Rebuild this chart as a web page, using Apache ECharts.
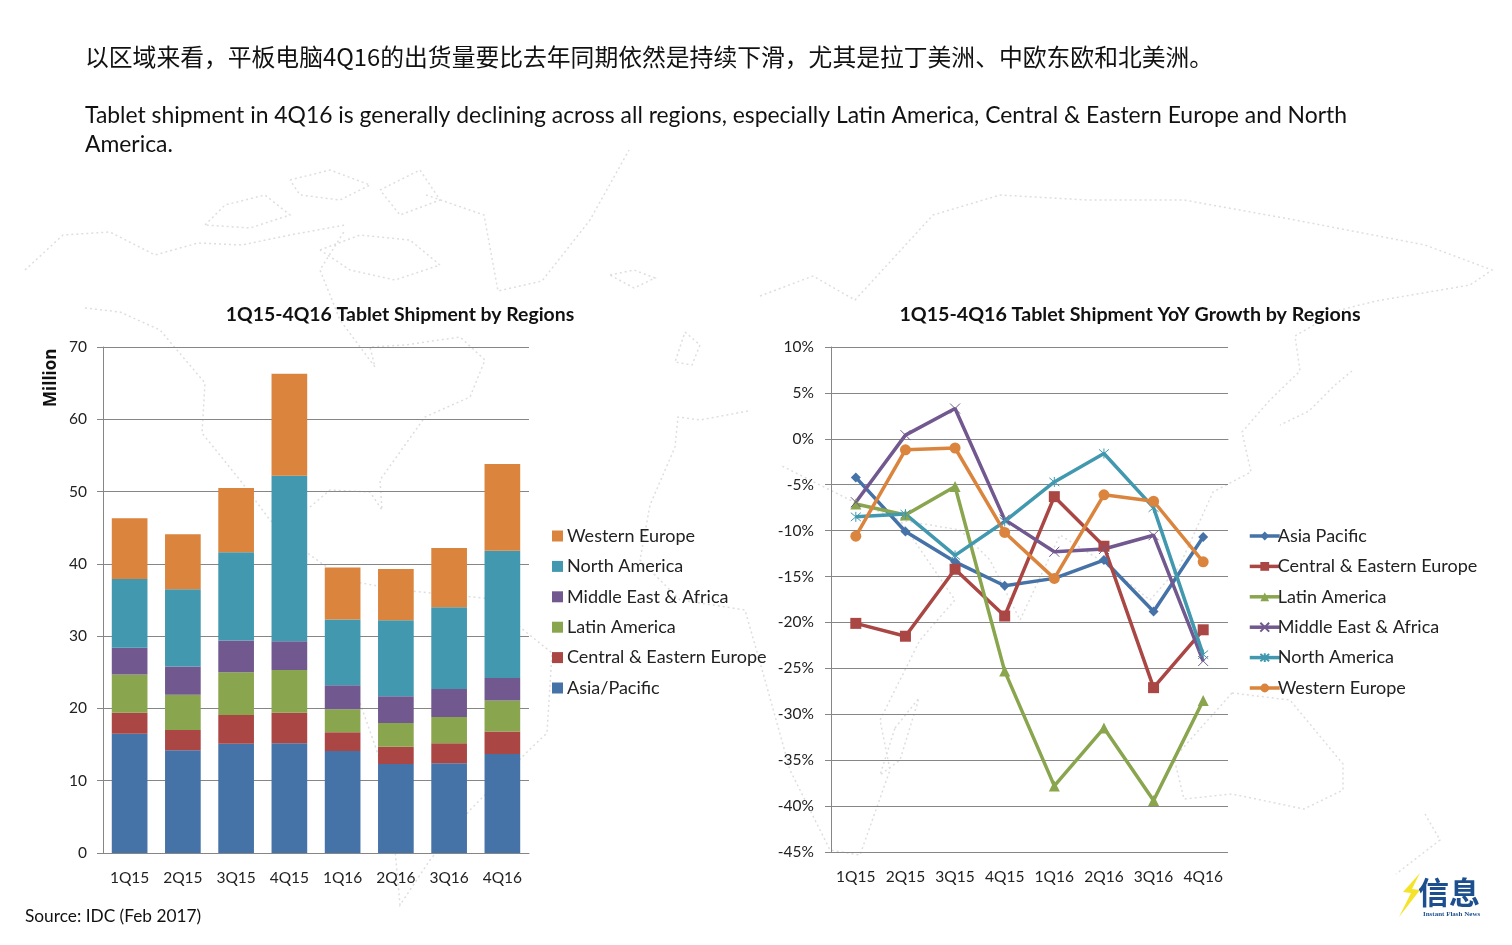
<!DOCTYPE html>
<html>
	<head>
		<meta charset="utf-8">
		<title>Tablet Shipment by Regions</title>
		<style>
			html, body { margin: 0; padding: 0; background: #fff; }
			.layer { position: absolute; left: 0; top: 0; width: 1512px; height: 945px; }
		</style>
	</head>
	<body>
		<div id="left" class="layer"></div>
		<div id="right" class="layer"></div>

		<script src="https://cdn.jsdelivr.net/npm/echarts@6/dist/echarts.min.js"></script>
		<script type="text/javascript">
			var FONT = 'Lato';

			var quarters = ['1Q15', '2Q15', '3Q15', '4Q15', '1Q16', '2Q16', '3Q16', '4Q16'];

			// shipment, million units
			var shipAsia = [16.5, 14.2, 15.1, 15.2, 14.1, 12.3, 12.4, 13.7];
			var shipCee = [2.9, 2.8, 4.0, 4.2, 2.6, 2.4, 2.8, 3.1];
			var shipLatam = [5.3, 4.9, 5.9, 5.9, 3.2, 3.3, 3.6, 4.3];
			var shipMea = [3.7, 3.9, 4.4, 4.0, 3.3, 3.7, 3.9, 3.1];
			var shipNa = [9.5, 10.7, 12.2, 22.9, 9.1, 10.5, 11.3, 17.6];
			var shipWe = [8.4, 7.6, 8.9, 14.1, 7.2, 7.1, 8.2, 12.0];

			// yoy growth, %
			var yoyAsia = [-4.2, -10.1, -13.4, -16.0, -15.2, -13.2, -18.8, -10.7];
			var yoyCee = [-20.1, -21.5, -14.2, -19.3, -6.3, -11.7, -27.1, -20.8];
			var yoyLatam = [-7.1, -8.3, -5.2, -25.3, -37.8, -31.5, -39.4, -28.5];
			var yoyMea = [-6.9, 0.4, 3.3, -8.8, -12.3, -12.0, -10.5, -24.2];
			var yoyNa = [-8.5, -8.2, -12.7, -9.0, -4.7, -1.6, -7.5, -23.5];
			var yoyWe = [-10.6, -1.2, -1.0, -10.2, -15.2, -6.1, -6.8, -13.4];

			var colBlue = '#4572a7';
			var colRed = '#aa4643';
			var colGreen = '#89a54e';
			var colPurple = '#71588f';
			var colTeal = '#4198af';
			var colOrange = '#db843d';

			// faint world map behind the charts (decoration only)
			var mapOutlines = [
				[[25,270],[63,235],[110,232],[155,255],[198,243],[242,245],[290,235],[345,225]],
				[[426,195],[484,215],[498,291],[542,281],[590,220],[629,150]],
				[[85,308],[120,312],[160,330],[205,383],[202,433],[240,480],[270,520],[310,555],[345,580],[400,590],[484,598],[552,653],[547,733],[528,751],[470,810],[430,860],[400,905],[395,850],[380,760],[345,660],[330,600]],
				[[310,507],[330,490],[370,492],[382,510],[380,480],[425,417],[470,397],[485,360],[460,337],[405,345],[370,347],[375,367],[340,320],[320,270],[345,230]],
				[[205,225],[225,205],[265,195],[290,215],[250,228],[205,225]],
				[[290,180],[330,170],[370,185],[340,200],[300,195],[290,180]],
				[[380,190],[420,170],[440,200],[400,215],[380,190]],
				[[320,250],[360,235],[410,240],[440,265],[395,280],[350,270],[320,250]],
				[[610,275],[634,270],[655,278],[634,288],[610,275]],
				[[685,332],[700,345],[692,365],[675,362],[685,332]],
				[[760,296],[813,276],[855,300],[933,215],[1000,195],[1087,200],[1184,200],[1295,220],[1425,245],[1492,270],[1470,285],[1376,301],[1340,310],[1295,336],[1300,371],[1270,400],[1242,432],[1251,472],[1213,492],[1179,567],[1150,600],[1100,560],[1060,535],[1020,620],[990,560],[960,530],[900,520],[850,500],[780,465]],
				[[748,411],[700,420],[678,417],[675,447],[650,505],[640,560],[680,600],[745,610],[765,680],[790,770],[830,850],[860,855],[890,770],[880,720],[920,640],[955,600],[900,520]],
				[[895,728],[919,698],[900,760],[880,775],[895,728]],
				[[1232,693],[1290,700],[1343,764],[1343,790],[1304,809],[1232,794],[1184,799],[1174,758],[1232,693]],
				[[1352,371],[1335,385],[1309,411],[1280,425]],
				[[1425,814],[1440,840],[1396,874]]
			];

			function mapElements() {
				return mapOutlines.map(function (points) {
					return {
						type: 'polyline',
						silent: true,
						z: -10,
						shape: { points: points },
						style: { stroke: '#dedede', lineWidth: 1.5, lineDash: [2, 3], fill: null }
					};
				});
			}

			function pageText(x, y, text, size, font, extra) {
				var style = { x: x, y: y, text: text, fill: extra && extra.fill || '#111',
					font: (extra && extra.weight || 'normal') + ' ' + size + 'px ' + font };
				if (extra && extra.align) { style.textAlign = extra.align; }
				var el = { type: 'text', silent: true, style: style };
				if (extra && extra.rotation) {
					el.x = x; el.y = y; el.rotation = extra.rotation;
					style.x = 0; style.y = 0;
				}
				return el;
			}

			var graphics = mapElements().concat([
				pageText(85, 45, '以区域来看，平板电脑4Q16的出货量要比去年同期依然是持续下滑，尤其是拉丁美洲、中欧东欧和北美洲。', 23.8, '"Noto Sans CJK SC"'),
				pageText(85, 104, 'Tablet shipment in 4Q16 is generally declining across all regions, especially Latin America, Central & Eastern Europe and North', 22.9, FONT),
				pageText(85, 133, 'America.', 22.9, FONT),
				pageText(25, 908, 'Source: IDC (Feb 2017)', 17.3, FONT),
				pageText(43, 407, 'Million', 17, '"Open Sans"', { rotation: Math.PI / 2, weight: 'bold' }),
				// logo
				{
					type: 'polygon', silent: true,
					shape: { points: [[1420, 873], [1403, 892], [1411, 893], [1399, 917], [1420, 890], [1412, 889]] },
					style: { fill: '#f5e32a' }
				},
				pageText(1418, 877, '信息', 31, '"Noto Sans CJK SC"', { fill: '#1d4f8f', weight: 'bold' }),
				pageText(1423, 911, 'Instant Flash News', 7, '"Liberation Serif"', { fill: '#1d4f8f', weight: 'bold' })
			]);

			function axisText() {
				return { color: '#222', fontFamily: FONT, fontSize: 15.5 };
			}
			var axisStroke = { color: '#868686', width: 1 };

			function barSeries(name, data, color) {
				return {
					name: name,
					type: 'bar',
					stack: 'ship',
					barWidth: '67%',
					data: data,
					itemStyle: { color: color }
				};
			}

			var leftChart = echarts.init(document.getElementById('left'));
			leftChart.setOption({
				animation: false,
				backgroundColor: 'transparent',
				title: {
					text: '1Q15-4Q16 Tablet Shipment by Regions',
					left: 395, top: 300, textAlign: 'center',
					textStyle: { color: '#111', fontFamily: FONT, fontSize: 19.4, fontWeight: 'bold' }
				},
				legend: {
					left: 552, top: 526, orient: 'vertical', padding: 0,
					icon: 'rect',
					itemWidth: 11, itemHeight: 11, itemGap: 10.4,
					data: ['Western Europe', 'North America', 'Middle East & Africa', 'Latin America', 'Central & Eastern Europe', 'Asia/Pacific'],
					textStyle: { color: '#222', fontFamily: FONT, fontSize: 18, lineHeight: 20, padding: [0, 0, 0, -1] }
				},
				grid: { left: 103, top: 347, width: 426, height: 506 },
				xAxis: {
					type: 'category',
					data: quarters,
					axisLine: { lineStyle: axisStroke },
					axisTick: { length: 6, lineStyle: axisStroke },
					axisLabel: Object.assign({ margin: 17, interval: 0 }, axisText())
				},
				yAxis: {
					type: 'value',
					min: 0, max: 70, interval: 10,
					axisLine: { show: true, lineStyle: axisStroke },
					axisTick: { show: true, length: 6, lineStyle: axisStroke },
					axisLabel: Object.assign({ margin: 16 }, axisText()),
					splitLine: { lineStyle: axisStroke }
				},
				series: [
					barSeries('Asia/Pacific', shipAsia, colBlue),
					barSeries('Central & Eastern Europe', shipCee, colRed),
					barSeries('Latin America', shipLatam, colGreen),
					barSeries('Middle East & Africa', shipMea, colPurple),
					barSeries('North America', shipNa, colTeal),
					barSeries('Western Europe', shipWe, colOrange)
				],
				graphic: graphics
			});

			var crossSymbol = 'path://M0 0L10 10M10 0L0 10';
			var starSymbol = 'path://M0 0L10 10M10 0L0 10M5 -1L5 11';

			function lineSeries(name, data, color, symbol, size, thin) {
				return {
					name: name,
					type: 'line',
					data: data,
					symbol: symbol,
					symbolSize: size,
					lineStyle: { color: color, width: 3.5 },
					itemStyle: thin ? { color: color, borderColor: color, borderWidth: 1 } : { color: color }
				};
			}

			var rightChart = echarts.init(document.getElementById('right'));
			rightChart.setOption({
				animation: false,
				backgroundColor: 'transparent',
				title: {
					text: '1Q15-4Q16 Tablet Shipment YoY Growth by Regions',
					left: 1125, top: 300, textAlign: 'center',
					textStyle: { color: '#111', fontFamily: FONT, fontSize: 19.65, fontWeight: 'bold' }
				},
				legend: {
					left: 1248, top: 526, orient: 'vertical', padding: 0,
					itemWidth: 30, itemHeight: 11, itemGap: 10.4,
					lineStyle: { width: 3.5 },
					data: ['Asia Pacific', 'Central & Eastern Europe', 'Latin America', 'Middle East & Africa', 'North America', 'Western Europe'],
					textStyle: { color: '#222', fontFamily: FONT, fontSize: 18, lineHeight: 20, padding: [0, 0, 0, -7] }
				},
				grid: { left: 831, top: 347, width: 397, height: 505 },
				xAxis: [
					{
						type: 'category',
						data: quarters,
						position: 'bottom',
						axisLine: { show: false, onZero: false },
						axisTick: { show: false },
						axisLabel: Object.assign({ margin: 17, interval: 0 }, axisText())
					},
					{
						// line through 0% with the ticks, labels stay at the bottom
						type: 'category',
						data: quarters,
						position: 'bottom',
						axisLine: { onZero: true, onZeroAxisIndex: 0, lineStyle: axisStroke },
						axisTick: { length: 5, interval: 0, lineStyle: axisStroke },
						axisLabel: { show: false }
					}
				],
				yAxis: {
					type: 'value',
					min: -45, max: 10, interval: 5,
					axisLine: { show: true, lineStyle: axisStroke },
					axisTick: { show: true, length: 6, lineStyle: axisStroke },
					axisLabel: Object.assign({ margin: 17, formatter: '{value}%' }, axisText()),
					splitLine: { lineStyle: axisStroke }
				},
				series: [
					lineSeries('Asia Pacific', yoyAsia, colBlue, 'diamond', 10),
					lineSeries('Central & Eastern Europe', yoyCee, colRed, 'rect', 11),
					lineSeries('Latin America', yoyLatam, colGreen, 'triangle', 11),
					lineSeries('Middle East & Africa', yoyMea, colPurple, crossSymbol, 10, true),
					lineSeries('North America', yoyNa, colTeal, starSymbol, 10, true),
					lineSeries('Western Europe', yoyWe, colOrange, 'circle', 11)
				]
			});
		</script>
	</body>
</html>
